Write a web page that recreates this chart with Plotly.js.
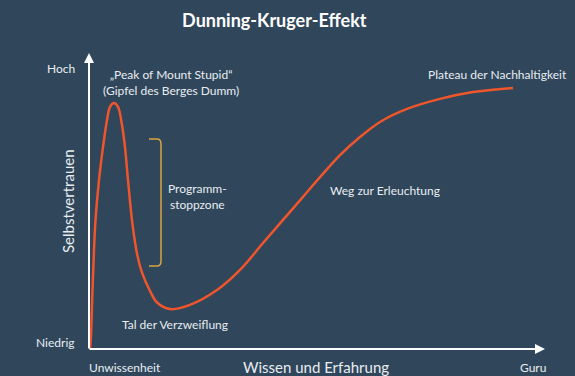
<!DOCTYPE html>
<html>
<head>
<meta charset="utf-8">
<script src="https://cdn.plot.ly/plotly-3.0.1.min.js"></script>
<style>html,body{margin:0;padding:0;background:#2f465b;}#chart{width:575px;height:376px;}</style>
</head>
<body>
<div id="chart"></div>
<script>
// Wissen und Erfahrung (0 = Unwissenheit, 100 = Guru)
const knowledge = [0, 0.22, 0.55, 0.88, 1.21, 1.98, 2.86, 3.74, 4.40, 5.27, 6.15, 7.03, 7.69, 8.35, 9.35, 10.33, 11.43, 13.19, 14.73, 17.58, 21.98, 27.91, 32.97, 38.02, 42.42, 46.81, 50.99, 54.95, 59.34, 63.74, 69.67, 76.92, 84.18, 92.97];
// Selbstvertrauen (0 = Niedrig, 100 = Hoch)
const confidence = [0, 4.7, 19.9, 33.4, 43.6, 57.1, 68.2, 77.4, 81.8, 83.1, 81.8, 75.7, 68.2, 57.1, 42.0, 32.3, 25.8, 19.6, 15.7, 13.5, 14.9, 19.9, 26.7, 35.8, 43.6, 51.4, 58.8, 65.5, 71.6, 76.7, 81.1, 84.5, 86.8, 88.2];

const titleText = "Dunning-Kruger-Effekt";
const xTitle = "Wissen und Erfahrung";
const yTitle = "Selbstvertrauen";
const xTickLabels = ["Unwissenheit", "Guru"];
const yTickLabels = ["Niedrig", "Hoch"];

const bg = "#2f465b";
const txt = "#e9edf1";
const font = "Lato, 'Open Sans', sans-serif";

// pixel -> paper helpers for label placement (plot area: x 90..545, y 53..349)
const PX = px => (px - 90) / 455;
const PY = py => (349 - py) / 296;
const X = px => PX(px) * 100;
const Y = py => PY(py) * 100;

function label(text, px, py, size, opts) {
  return Object.assign({
    text: text, x: PX(px), y: PY(py), xref: "paper", yref: "paper",
    showarrow: false, font: {family: font, size: size, color: txt},
    xanchor: "center", yanchor: "middle"
  }, opts || {});
}

const trace = {
  x: knowledge, y: confidence, type: "scatter", mode: "lines",
  line: {color: "#f0552b", width: 2.5, shape: "spline", smoothing: 1.0},
  hoverinfo: "skip", cliponaxis: false
};

const layout = {
  width: 575, height: 376,
  margin: {l: 90, r: 30, t: 53, b: 27},
  paper_bgcolor: bg, plot_bgcolor: bg,
  showlegend: false,
  title: {text: "<b>" + titleText + "</b>", x: 0.477, xanchor: "center", y: 0.945, yanchor: "middle",
          font: {family: font, size: 18, color: "#ffffff"}},
  xaxis: {range: [0, 100], showgrid: false, zeroline: false, showticklabels: false, showline: false, fixedrange: true},
  yaxis: {range: [0, 100], showgrid: false, zeroline: false, showticklabels: false, showline: false, fixedrange: true},
  shapes: [{
    type: "path", xref: "x", yref: "y",
    path: `M ${X(149)},${Y(139)} L ${X(157)},${Y(139)} Q ${X(161)},${Y(139)} ${X(161)},${Y(144)} L ${X(161)},${Y(261)} Q ${X(161)},${Y(266)} ${X(157)},${Y(266)} L ${X(149)},${Y(266)}`,
    line: {color: "#d9a440", width: 1.5}
  }],
  annotations: [
    // axes arrows
    {x: PX(545), y: PY(349), ax: -457, ay: 0, xref: "paper", yref: "paper",
     showarrow: true, arrowhead: 2, arrowsize: 1, arrowwidth: 2, arrowcolor: "#ffffff", text: ""},
    {x: PX(89), y: PY(53), ax: 0, ay: 297, xref: "paper", yref: "paper",
     showarrow: true, arrowhead: 2, arrowsize: 1, arrowwidth: 2, arrowcolor: "#ffffff", text: ""},
    label(yTickLabels[1], 61, 68, 12),
    label(yTickLabels[0], 55, 342, 12),
    label(xTickLabels[0], 87, 367, 12, {xanchor: "left"}),
    label(xTickLabels[1], 533, 367, 12),
    label(xTitle, 316, 367, 15),
    label(yTitle, 68, 201, 15, {textangle: -90}),
    label("„Peak of Mount Stupid“<br>(Gipfel des Berges Dumm)", 171, 82, 12),
    label("Programm-<br>stoppzone", 197, 196, 12),
    label("Tal der Verzweiflung", 175, 324, 12),
    label("Weg zur Erleuchtung", 385, 190, 12),
    label("Plateau der Nachhaltigkeit", 497, 74, 12)
  ]
};

Plotly.newPlot("chart", [trace], layout, {displayModeBar: false, staticPlot: true});
</script>
</body>
</html>
